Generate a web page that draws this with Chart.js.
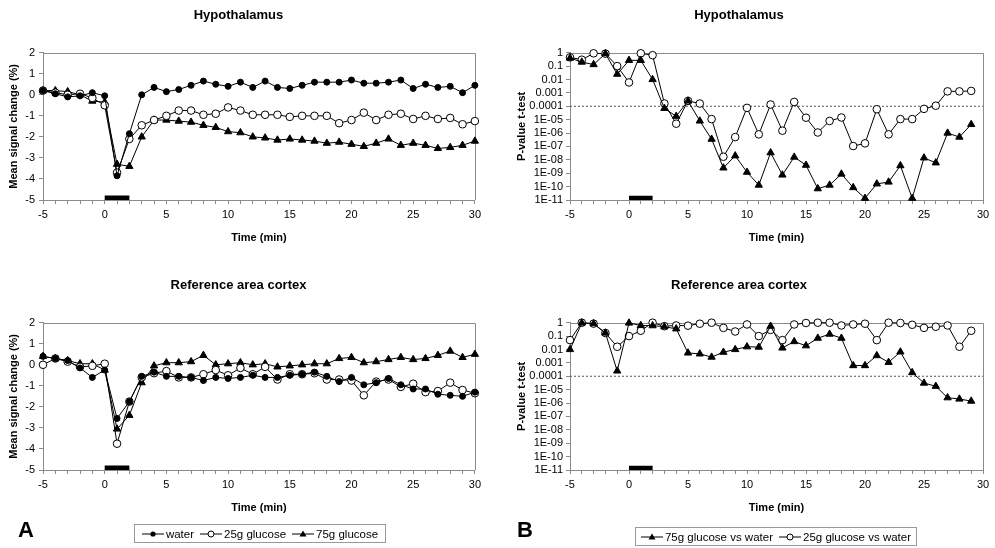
<!DOCTYPE html>
<html>
<head>
<meta charset="utf-8">
<script src="https://cdn.jsdelivr.net/npm/chart.js@4.4.1/dist/chart.umd.min.js"></script>
<style>
    body { margin: 0; background: #fff; width: 995px; height: 548px; position: relative; overflow: hidden;
           font-family: "Liberation Sans", Arial, sans-serif; color: #000; }
    .panel { position: absolute; }
    .letter { position: absolute; font-weight: bold; font-size: 22px; line-height: 22px; }
    .legend { position: absolute; border: 1px solid #999; height: 19px; box-sizing: border-box;
              display: flex; align-items: center; justify-content: center; font-size: 11.5px; white-space: nowrap; }
    .legend span { display: inline-flex; align-items: center; margin: 0 3px; }
    .legend svg { margin-right: 2px; }
</style>
</head>
<body>
<div class="panel" style="left:0;top:0"><canvas id="hypoSignal" width="485" height="250"></canvas></div>
<div class="panel" style="left:495px;top:0"><canvas id="hypoP" width="500" height="250"></canvas></div>
<div class="panel" style="left:0;top:270px"><canvas id="cortSignal" width="485" height="250"></canvas></div>
<div class="panel" style="left:495px;top:270px"><canvas id="cortP" width="500" height="250"></canvas></div>

<div class="letter" style="left:18px;top:519px">A</div>
<div class="letter" style="left:517px;top:519px">B</div>

<div class="legend" style="left:134px;top:524px;width:252px">
    <span><svg width="22" height="10"><line x1="0" y1="5" x2="22" y2="5" stroke="#000"/><circle cx="11" cy="5" r="2.6" fill="#000"/></svg>water</span>
    <span><svg width="22" height="10"><line x1="0" y1="5" x2="22" y2="5" stroke="#000"/><circle cx="11" cy="5" r="3" fill="#fff" stroke="#000"/></svg>25g glucose</span>
    <span><svg width="22" height="10"><line x1="0" y1="5" x2="22" y2="5" stroke="#000"/><polygon points="11,1.5 14.5,7.5 7.5,7.5" fill="#000"/></svg>75g glucose</span>
</div>
<div class="legend" style="left:635px;top:527px;width:282px">
    <span><svg width="22" height="10"><line x1="0" y1="5" x2="22" y2="5" stroke="#000"/><polygon points="11,1.5 14.5,7.5 7.5,7.5" fill="#000"/></svg>75g glucose vs water</span>
    <span><svg width="22" height="10"><line x1="0" y1="5" x2="22" y2="5" stroke="#000"/><circle cx="11" cy="5" r="3" fill="#fff" stroke="#000"/></svg>25g glucose vs water</span>
</div>

<script>
// 时间 (min)
const timeA = [-5, -4, -3, -2, -1, 0, 1, 2, 3, 4, 5, 6, 7, 8, 9, 10, 11, 12, 13, 14, 15, 16, 17, 18, 19, 20, 21, 22, 23, 24, 25, 26, 27, 28, 29, 30];
const timeB = [-5, -4, -3, -2, -1, 0, 1, 2, 3, 4, 5, 6, 7, 8, 9, 10, 11, 12, 13, 14, 15, 16, 17, 18, 19, 20, 21, 22, 23, 24, 25, 26, 27, 28, 29];

// A: mean signal change (%) - hypothalamus
const hypoWater = [0.2, 0.05, -0.1, -0.05, 0.1, -0.05, -3.85, -1.85, 0.0, 0.35, 0.15, 0.25, 0.45, 0.65, 0.5, 0.4, 0.6, 0.35, 0.65, 0.35, 0.3, 0.45, 0.6, 0.6, 0.6, 0.7, 0.55, 0.55, 0.6, 0.7, 0.3, 0.5, 0.35, 0.4, 0.1, 0.45];
const hypo25 = [0.2, 0.1, 0.0, 0.05, -0.15, -0.5, -3.7, -2.1, -1.45, -1.2, -1.0, -0.75, -0.75, -0.95, -0.9, -0.6, -0.75, -0.95, -0.95, -0.95, -1.05, -1.0, -1.0, -1.0, -1.35, -1.2, -0.85, -1.2, -0.95, -0.9, -1.15, -1.0, -1.15, -1.1, -1.4, -1.25];
const hypo75 = [0.2, 0.2, 0.15, 0.0, -0.3, -0.35, -3.3, -3.4, -2.0, -1.2, -1.2, -1.25, -1.3, -1.45, -1.55, -1.75, -1.8, -2.0, -2.05, -2.15, -2.1, -2.15, -2.2, -2.3, -2.25, -2.35, -2.45, -2.3, -2.1, -2.4, -2.3, -2.4, -2.55, -2.5, -2.4, -2.2];

// A: mean signal change (%) - reference area cortex
const cortWater = [0.4, 0.3, 0.2, -0.15, -0.6, -0.25, -2.55, -1.75, -0.55, -0.35, -0.55, -0.55, -0.6, -0.75, -0.6, -0.65, -0.6, -0.5, -0.6, -0.6, -0.5, -0.45, -0.35, -0.55, -0.8, -0.6, -0.95, -0.85, -0.65, -0.95, -1.15, -1.15, -1.4, -1.45, -1.5, -1.3];
const cort25 = [0.0, 0.3, 0.15, -0.1, -0.05, 0.05, -3.75, -1.75, -0.6, -0.4, -0.3, -0.6, -0.6, -0.45, -0.25, -0.5, -0.15, -0.45, -0.1, -0.7, -0.45, -0.45, -0.4, -0.7, -0.7, -0.75, -1.45, -0.8, -0.7, -1.05, -0.9, -1.3, -1.25, -0.85, -1.2, -1.35];
const cort75 = [0.4, 0.3, 0.2, 0.05, 0.05, -0.25, -3.05, -2.4, -0.85, -0.05, 0.1, 0.1, 0.15, 0.45, 0.0, 0.05, 0.1, 0.0, 0.05, -0.1, -0.05, 0.0, 0.05, 0.05, 0.3, 0.35, 0.1, 0.15, 0.25, 0.35, 0.25, 0.3, 0.45, 0.65, 0.35, 0.5];

// B: P-value t-test - hypothalamus
const hypoP75 = [0.4, 0.2, 0.13, 0.85, 0.025, 0.27, 0.27, 0.01, 7e-5, 1.8e-5, 2.5e-4, 8e-6, 3.5e-7, 2.5e-9, 2e-8, 1.2e-9, 1.3e-10, 3.4e-8, 7.4e-10, 1.6e-8, 4e-9, 7e-11, 1.3e-10, 8.7e-10, 8.5e-11, 1.35e-11, 1.6e-10, 2.2e-10, 3.7e-9, 1.35e-11, 1.4e-8, 6e-9, 1e-6, 5e-7, 4.4e-6];
const hypoP25 = [0.45, 0.3, 0.9, 0.85, 0.1, 0.006, 0.9, 0.65, 1.6e-4, 5e-6, 2.5e-4, 1.6e-4, 1.1e-5, 1.7e-8, 5e-7, 7.6e-5, 8e-7, 1.35e-4, 1.5e-6, 2.1e-4, 1.4e-5, 1.1e-6, 8e-6, 1.45e-5, 1.07e-7, 1.7e-7, 6e-5, 8e-7, 1.1e-5, 1.1e-5, 6.4e-5, 1.1e-4, 1.3e-3, 1.3e-3, 1.4e-3];

// B: P-value t-test - reference area cortex
const cortP75 = [0.01, 0.95, 0.85, 0.17, 2.5e-4, 0.95, 0.62, 0.6, 0.5, 0.35, 0.0055, 0.0047, 0.0027, 0.0063, 0.01, 0.016, 0.015, 0.55, 0.013, 0.039, 0.019, 0.07, 0.14, 0.07, 6.3e-4, 6.3e-4, 0.0035, 0.0011, 0.0066, 1.9e-4, 3.1e-5, 1.8e-5, 2.5e-6, 2e-6, 1.4e-6];
const cortP25 = [0.05, 1.0, 0.85, 0.17, 0.016, 0.1, 0.25, 1.0, 0.55, 0.62, 0.6, 0.84, 1.0, 0.41, 0.22, 0.74, 0.1, 0.29, 0.05, 0.74, 0.95, 1.0, 1.0, 0.62, 0.74, 0.84, 0.05, 1.0, 0.95, 0.7, 0.41, 0.5, 0.62, 0.016, 0.25];

// 刻度
const signalTicks = [-5, -4, -3, -2, -1, 0, 1, 2];
const pTicks = [1e-11, 1e-10, 1e-9, 1e-8, 1e-7, 1e-6, 1e-5, 1e-4, 1e-3, 1e-2, 1e-1, 1];
const pTickLabels = ['1E-11', '1E-10', '1E-09', '1E-08', '1E-07', '1E-06', '1E-05', '0.0001', '0.001', '0.01', '0.1', '1'];

// 饮用时段 (min) 和显著性阈值
const stimulus = [0, 2];
const threshold = 0.0001;

Chart.defaults.font.family = '"Liberation Sans", Arial, sans-serif';
Chart.defaults.font.size = 11;
Chart.defaults.color = '#000';

const axisGray = '#8a8a8a';

// 画图区上边和右边的框线
const plotFrame = {
    id: 'plotFrame',
    beforeDatasetsDraw(chart) {
        const a = chart.chartArea;
        const ctx = chart.ctx;
        ctx.save();
        ctx.strokeStyle = axisGray;
        ctx.lineWidth = 1;
        ctx.beginPath();
        ctx.moveTo(a.left, Math.round(a.top) + 0.5);
        ctx.lineTo(Math.round(a.right) + 0.5, Math.round(a.top) + 0.5);
        ctx.lineTo(Math.round(a.right) + 0.5, a.bottom);
        ctx.stroke();
        ctx.restore();
    }
};

const filledCircle = { pointStyle: 'circle', pointRadius: 3, pointBackgroundColor: '#000', pointBorderColor: '#000' };
const openCircle = { pointStyle: 'circle', pointRadius: 3.8, pointBackgroundColor: '#fff', pointBorderColor: '#000', pointBorderWidth: 1 };
const triangle = { pointStyle: 'triangle', pointRadius: 4.2, pointBackgroundColor: '#000', pointBorderColor: '#000' };

function series(label, xs, ys, marker) {
    return Object.assign({
        label: label,
        data: xs.map((x, i) => ({ x: x, y: ys[i] })),
        borderColor: '#000',
        borderWidth: 1,
        tension: 0,
        clip: false
    }, marker);
}

// 0-2 min 的黑色横条
function stimulusBar(y) {
    return {
        label: 'stimulus',
        data: stimulus.map(x => ({ x: x, y: y })),
        borderColor: '#000',
        borderWidth: 4.5,
        borderCapStyle: 'butt',
        pointRadius: 0
    };
}

// 0.0001 虚线
function thresholdLine() {
    return {
        label: 'threshold',
        data: [{ x: timeA[0], y: threshold }, { x: timeA[timeA.length - 1], y: threshold }],
        borderColor: '#555',
        borderWidth: 1,
        borderDash: [2, 2],
        pointRadius: 0
    };
}

function xAxis() {
    return {
        type: 'linear',
        min: -5,
        max: 30,
        ticks: {
            stepSize: 1,
            autoSkip: false,
            maxRotation: 0,
            padding: 4,
            callback: v => (v % 5 === 0 ? v : '')
        },
        grid: { drawOnChartArea: false, tickLength: 4, color: axisGray },
        border: { color: axisGray },
        title: { display: true, text: 'Time (min)', font: { size: 11, weight: 'bold' }, padding: { top: 0, bottom: 5 } },
        afterFit: s => { s.height = 50; }
    };
}

function signalAxis() {
    return {
        type: 'linear',
        min: -5,
        max: 2,
        afterBuildTicks: s => { s.ticks = signalTicks.map(v => ({ value: v })); },
        ticks: { padding: 4 },
        grid: { drawOnChartArea: false, tickLength: 4, color: axisGray },
        border: { color: axisGray },
        title: { display: true, text: 'Mean signal change (%)', font: { size: 11, weight: 'bold' }, padding: { top: 7.5, bottom: 0 } },
        afterFit: s => { s.width = 43; }
    };
}

function pAxis() {
    return {
        type: 'logarithmic',
        min: 1e-11,
        max: 1,
        afterBuildTicks: s => { s.ticks = pTicks.map(v => ({ value: v })); },
        ticks: { padding: 3, autoSkip: false, callback: (v, i) => pTickLabels[i] },
        grid: { drawOnChartArea: false, tickLength: 4, color: axisGray },
        border: { color: axisGray },
        title: { display: true, text: 'P-value t-test', font: { size: 11, weight: 'bold' }, padding: { top: 20, bottom: 0 } },
        afterFit: s => { s.width = 75; }
    };
}

function makeChart(id, title, datasets, yAxis, rightPad) {
    return new Chart(document.getElementById(id), {
        type: 'line',
        data: { datasets: datasets },
        options: {
            responsive: false,
            animation: false,
            layout: { padding: { left: 0, right: rightPad, top: 0, bottom: 0 } },
            plugins: {
                legend: { display: false },
                tooltip: { enabled: false },
                title: {
                    display: true,
                    text: title,
                    font: { size: 13, weight: 'bold' },
                    color: '#000',
                    padding: { top: 7.2, bottom: 29.9 }
                }
            },
            scales: { x: xAxis(), y: yAxis }
        },
        plugins: [plotFrame]
    });
}

makeChart('hypoSignal', 'Hypothalamus', [
    series('water', timeA, hypoWater, filledCircle),
    series('25g glucose', timeA, hypo25, openCircle),
    series('75g glucose', timeA, hypo75, triangle),
    stimulusBar(-4.89)
], signalAxis(), 8);

makeChart('cortSignal', 'Reference area cortex', [
    series('water', timeA, cortWater, filledCircle),
    series('25g glucose', timeA, cort25, openCircle),
    series('75g glucose', timeA, cort75, triangle),
    stimulusBar(-4.89)
], signalAxis(), 8);

makeChart('hypoP', 'Hypothalamus', [
    series('75g glucose vs water', timeB, hypoP75, triangle),
    series('25g glucose vs water', timeB, hypoP25, openCircle),
    thresholdLine(),
    stimulusBar(1.4e-11)
], pAxis(), 12);

makeChart('cortP', 'Reference area cortex', [
    series('75g glucose vs water', timeB, cortP75, triangle),
    series('25g glucose vs water', timeB, cortP25, openCircle),
    thresholdLine(),
    stimulusBar(1.4e-11)
], pAxis(), 12);
</script>
</body>
</html>
